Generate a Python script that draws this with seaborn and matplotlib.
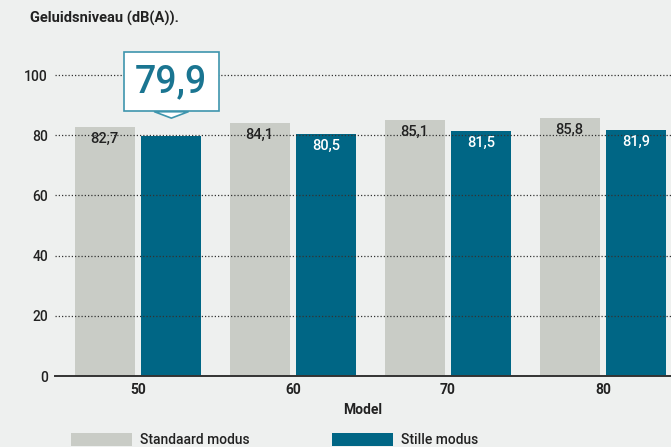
import matplotlib.pyplot as plt
import seaborn as sns
import pandas as pd

# data
models = ['50', '60', '70', '80']
standaard = [82.7, 84.1, 85.1, 85.8]
stille = [79.9, 80.5, 81.5, 81.9]
modes = ['Standaard modus', 'Stille modus']
colors = ['#c9ccc6', '#006685']
yticks = [0, 20, 40, 60, 80, 100]

df = pd.DataFrame({
    'Model': models * 2,
    'value': standaard + stille,
    'modus': [modes[0]] * len(models) + [modes[1]] * len(models),
})

sns.set_theme(style='white')
plt.rcParams['font.family'] = ['Roboto', 'DejaVu Sans']
bg = '#eef0ef'
txt = '#222222'
teal = '#1a7591'

fig = plt.figure(figsize=(6.71, 4.47), dpi=100, facecolor=bg)
ax = fig.add_axes([55 / 671, 71 / 447, 616 / 671, 331 / 447], facecolor=bg)

sns.barplot(data=df, x='Model', y='value', hue='modus', palette=colors,
            width=0.86, gap=0.1, saturation=1, linewidth=0, ax=ax, legend=True)

ax.set_xlim(-0.536, 3.44)
ax.set_ylim(0, 110)
ax.set_yticks(yticks)
ax.set_yticklabels([str(v) for v in yticks], fontsize=10, color=txt, fontweight='medium')
ax.set_xticks(range(len(models)))
ax.set_xticklabels(models, fontsize=10, color=txt, fontweight='bold')
ax.tick_params(axis='both', length=0, pad=5)
ax.set_xlabel('Model', fontsize=10, color=txt, fontweight='bold', labelpad=4)
ax.set_ylabel('')

for s in ['top', 'right', 'left']:
    ax.spines[s].set_visible(False)
ax.spines['bottom'].set_color('#333333')
ax.spines['bottom'].set_linewidth(1.4)

ax.set_axisbelow(False)
ax.yaxis.grid(True, linestyle=(0, (1, 1.6)), color='#333333', linewidth=0.9)
ax.xaxis.grid(False)

# value labels
def fmt(v):
    return f'{v:.1f}'.replace('.', ',')

cont_std, cont_stl = ax.containers[0], ax.containers[1]
for bar, v in zip(cont_std, standaard):
    ax.text(bar.get_x() + bar.get_width() / 2, v - 1.6, fmt(v), ha='center', va='top',
            fontsize=10.5, color=txt, fontweight='medium', zorder=4)
for i, (bar, v) in enumerate(zip(cont_stl, stille)):
    cx = bar.get_x() + bar.get_width() / 2
    if i == 0:
        ax.annotate(fmt(v), xy=(cx, v + 5.8), xytext=(cx, v + 18), ha='center', va='center',
                    fontsize=27, color=teal, fontweight='medium', zorder=6,
                    bbox=dict(boxstyle='square,pad=0.3', fc='white', ec='#3e95ad', lw=1.2),
                    arrowprops=dict(arrowstyle='wedge,tail_width=0.9,shrink_factor=0.5',
                                    fc='white', ec='#3e95ad', lw=1.2,
                                    shrinkA=0, shrinkB=0))
    else:
        ax.text(cx, v - 1.8, fmt(v), ha='center', va='top',
                fontsize=10.5, color='white', fontweight='medium', zorder=4)

fig.text(30 / 671, 1 - 18 / 447, 'Geluidsniveau (dB(A)).', fontsize=10.5, fontweight='bold',
         color=txt, va='center', ha='left')

handles, labels = ax.get_legend_handles_labels()
ax.legend_.remove()
fig.legend(handles, labels, loc='upper left', bbox_to_anchor=(58 / 671, 1 - 420 / 447),
           ncol=2, frameon=False, fontsize=10, handlelength=4.4, handleheight=1.1,
           handletextpad=0.6, columnspacing=5.9, labelcolor=txt,
           prop={'size': 10, 'weight': 'medium'})

fig.savefig('out.png', dpi=100, facecolor=bg)
